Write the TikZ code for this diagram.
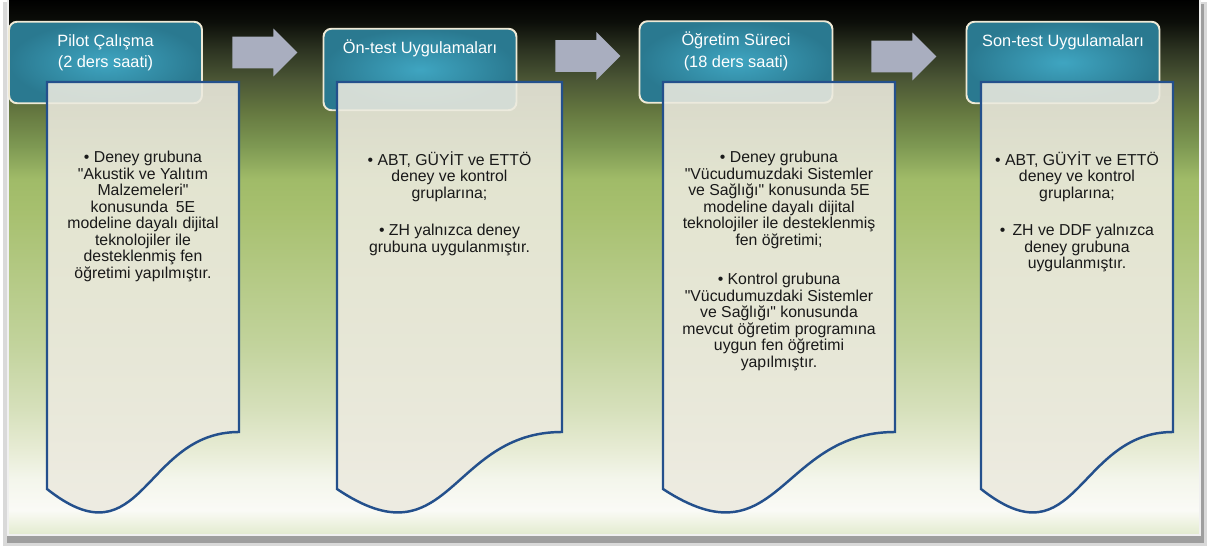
\documentclass[tikz,border=0pt]{standalone}
\usepackage{fontspec}
\setmainfont{Liberation Sans}
\usetikzlibrary{positioning,shapes.arrows}

\definecolor{krem}{HTML}{EFEAD6}
\definecolor{turkuazic}{HTML}{3FA5C1}
\definecolor{turkuazdis}{HTML}{2A7990}
\definecolor{lacivert}{HTML}{24508C}
\definecolor{belgezemin}{HTML}{ECEADF}
\definecolor{okgri}{HTML}{A9AEBF}
\definecolor{zA}{HTML}{E2E9CF}
\definecolor{zB}{HTML}{EAF0DA}
\definecolor{zC}{HTML}{FAFAF6}
\definecolor{zD}{HTML}{F4F6EC}
\definecolor{zE}{HTML}{E6EBD3}
\definecolor{zF}{HTML}{D6E0BB}
\definecolor{zG}{HTML}{C2D39C}
\definecolor{zH}{HTML}{B5CA86}
\definecolor{zI}{HTML}{A7C06F}
\definecolor{zJ}{HTML}{A0BB68}
\definecolor{zK}{HTML}{7E9953}
\definecolor{zL}{HTML}{657840}
\definecolor{zM}{HTML}{4B5635}
\definecolor{zN}{HTML}{2C3321}
\definecolor{zO}{HTML}{0C0E09}
\definecolor{zP}{HTML}{000000}
\pgfdeclareverticalshading{zemin}{100bp}{color(0bp)=(zA); color(25bp)=(zA);
  color(25.7bp)=(zB); color(27.3bp)=(zC); color(30.1bp)=(zD); color(33.1bp)=(zE);
  color(36.6bp)=(zF); color(42.6bp)=(zG); color(48.6bp)=(zH); color(54.8bp)=(zI);
  color(57.9bp)=(zJ); color(60.9bp)=(zK); color(64.1bp)=(zL); color(67.1bp)=(zM);
  color(69.9bp)=(zN); color(72.4bp)=(zO); color(74.5bp)=(zP); color(100bp)=(zP)}

\begin{document}
\begin{tikzpicture}[x=0.02cm, y=-0.02cm,
    baslik/.style={draw=krem, line width=1.1pt, rounded corners=0.16cm,
      inner color=turkuazic, outer color=turkuazdis,
      minimum width=3.86cm, minimum height=1.63cm},
    basyazi/.style={text=white, align=center, inner sep=0pt,
      font=\fontsize{9.3}{12.3}\selectfont},
    belge/.style={draw=lacivert, line width=1.4pt, fill=belgezemin, fill opacity=0.88},
    madde/.style={anchor=north, align=center, inner sep=0pt, text=black!90,
      font=\fontsize{9}{9.4}\selectfont},
    blokok/.style={single arrow, fill=okgri, anchor=tail, inner xsep=0pt,
      inner ysep=0.31cm, text height=0pt, text depth=0pt,
      single arrow head extend=0.16cm, minimum height=1.3cm}]
  \fill[white] (0,0) rectangle (1208,546);
  \useasboundingbox (0,0) rectangle (1208,546);
  \fill[black!15] (3,2) rectangle (1207,546);
  \fill[black!38] (7,4) rectangle (1204,543);
  \shadedraw[shading=zemin, draw=white!94!black, line width=1pt] (8,-6) rectangle (1200,535);

  \node[baslik] (h1) at (105.5,62.5) {};
  \node[baslik] (h2) at (420,69.5)   {};
  \node[baslik] (h3) at (736,62)     {};
  \node[baslik] (h4) at (1063,62.5)  {};

  \node[blokok] (a1) at (232,52.5) {};
  \node[blokok] (a2) at (555,56)   {};
  \node[blokok] (a3) at (871,56.5) {};

  \draw[belge] (47,82) -- (239,82) -- (239,432) .. controls (143,432) and (143,565) .. (47,489) -- cycle;
  \draw[belge] (337,82) -- (562,82) -- (562,432) .. controls (449.5,432) and (449.5,565) .. (337,489) -- cycle;
  \draw[belge] (663,82) -- (895,82) -- (895,432) .. controls (779,432) and (779,565) .. (663,489) -- cycle;
  \draw[belge] (981,82) -- (1173,82) -- (1173,432) .. controls (1077,432) and (1077,565) .. (981,489) -- cycle;

  \node[basyazi, below=0.2cm of h1.north] (b1) {\strut Pilot Çalışma\\(2 ders saati)};
  \node[basyazi, below=0.2cm of h2.north] (b2) {\strut Ön-test Uygulamaları};
  \node[basyazi, below=0.2cm of h3.north] (b3) {\strut Öğretim Süreci\\(18 ders saati)};
  \node[basyazi, below=0.2cm of h4.north] (b4) {\strut Son-test Uygulamaları};

  \node[madde] (m1) at (143,151) {\strut• Deney grubuna\\\textquotedbl Akustik ve Yalıtım\\Malzemeleri\textquotedbl\\
    konusunda\enspace 5E\\modeline dayalı dijital\\teknolojiler ile\\desteklenmiş fen\\
    öğretimi yapılmıştır.};
  \node[madde] (m2) at (449.5,151) {\strut• ABT, GÜYİT ve ETTÖ\\deney ve kontrol\\gruplarına;\\[12pt]
    • ZH yalnızca deney\\grubuna uygulanmıştır.};
  \node[madde] (m3) at (779,151) {\strut• Deney grubuna\\\textquotedbl Vücudumuzdaki Sistemler\\
    ve Sağlığı\textquotedbl{} konusunda 5E\\modeline dayalı dijital\\teknolojiler ile desteklenmiş\\
    fen öğretimi;\\[13pt]
    • Kontrol grubuna\\\textquotedbl Vücudumuzdaki Sistemler\\ve Sağlığı\textquotedbl{} konusunda\\
    mevcut öğretim programına\\uygun fen öğretimi\\yapılmıştır.};
  \node[madde] (m4) at (1077,151) {\strut• ABT, GÜYİT ve ETTÖ\\deney ve kontrol\\gruplarına;\\[12pt]
    • \,ZH ve DDF yalnızca\\deney grubuna\\uygulanmıştır.};
\end{tikzpicture}
\end{document}
